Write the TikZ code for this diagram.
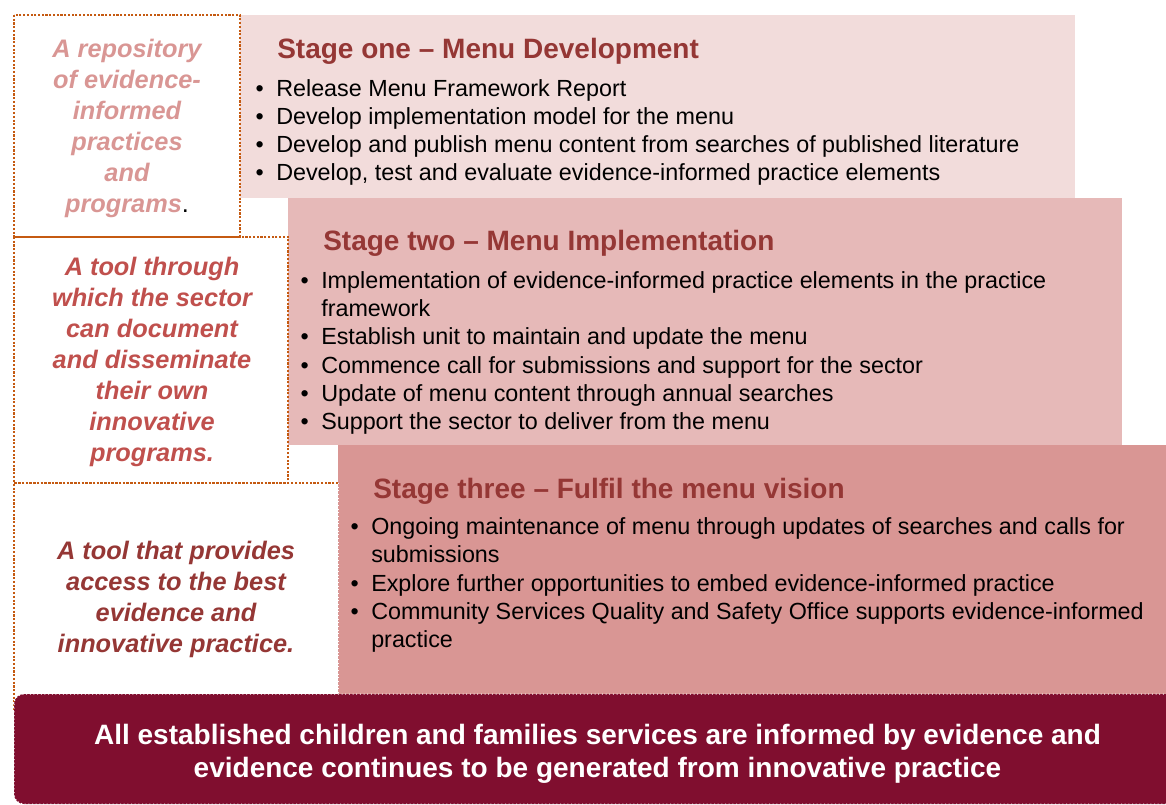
\documentclass[tikz,border=0pt]{standalone}
\usepackage{fontspec}
\setmainfont{Liberation Sans}
\definecolor{sone}{RGB}{242,220,219}
\definecolor{stwo}{RGB}{230,185,184}
\definecolor{sthree}{RGB}{217,150,148}
\definecolor{titlered}{RGB}{149,55,53}
\definecolor{midred}{RGB}{192,80,77}
\definecolor{darkbox}{RGB}{128,14,47}
\definecolor{dotorange}{RGB}{197,90,17}
\newcommand\bul{\llap{\makebox[15.5pt][l]{•}}}
\begin{document}
\begin{tikzpicture}[x=0.75pt,y=-0.75pt,
  dotbox/.style={draw=dotorange,line width=1.8pt,dash pattern=on 1.6pt off 1.2pt},
  stagetitle/.style={anchor=base west,inner sep=0pt,text=titlered,font=\fontsize{21}{25}\selectfont\bfseries},
  bodyline/.style={anchor=base west,inner sep=0pt,font=\fontsize{17.5}{21}\selectfont},
  sidetext/.style={align=center,inner sep=0pt,font=\fontsize{19}{23.25}\selectfont\bfseries\itshape},
]
\useasboundingbox (0,0) rectangle (1166,805);
\clip (0,0) rectangle (1166,805);
% stage fills
\fill[sone] (240,15) rectangle (1075,198);
\fill[stwo] (288,198) rectangle (1122,445);
\fill[sthree] (338,445) rectangle (1170,700);
\draw[white,line width=0.75pt,dotted] (338,483) -- (338,694);
% dotted side boxes
\draw[dotbox] (14,15) rectangle (240,237);
\draw[dotbox] (14,237) rectangle (288,483);
\draw[dotbox] (338,483) -- (14,483) -- (14,710);
% outcome box
\draw[white,line width=0.75pt,dotted,fill=darkbox,rounded corners=7.5pt] (14,694) rectangle (1200,804);

% titles
\node[stagetitle] (t1) at (277,58.3) {Stage one – Menu Development};
\node[stagetitle] (t2) at (323,251) {Stage two – Menu Implementation};
\node[stagetitle] (t3) at (373,498) {Stage three – Fulfil the menu vision};

% stage one bullets
\foreach \txt [count=\i] in {
  {\bul Release Menu Framework Report},
  {\bul Develop implementation model for the menu},
  {\bul Develop and publish menu content from searches of published literature},
  {\bul Develop, test and evaluate evidence-informed practice elements}}
  \node[bodyline] (sa\i) at (276,{96.5+28*(\i-1)}) {\txt};

% stage two bullets
\foreach \txt [count=\i] in {
  {\bul Implementation of evidence-informed practice elements in the practice},
  {framework},
  {\bul Establish unit to maintain and update the menu},
  {\bul Commence call for submissions and support for the sector},
  {\bul Update of menu content through annual searches},
  {\bul Support the sector to deliver from the menu}}
  \node[bodyline] (sb\i) at (321,{288.5+28.2*(\i-1)}) {\txt};

% stage three bullets
\foreach \txt [count=\i] in {
  {\bul Ongoing maintenance of menu through updates of searches and calls for},
  {submissions},
  {\bul Explore further opportunities to embed evidence-informed practice},
  {\bul Community Services Quality and Safety Office supports evidence-informed},
  {practice}}
  \node[bodyline] (sc\i) at (371,{534.5+28.25*(\i-1)}) {\txt};

% side texts
\node[sidetext,text=sthree] (r1) at (127,128) {A repository\\of evidence-\\informed\\practices\\and\\programs{\color{black}\upshape\mdseries.}};
\node[sidetext,text=midred] (r2) at (152,362) {A tool through\\which the sector\\can document\\and disseminate\\their own\\innovative\\programs.};
\node[sidetext,text=titlered] (r3) at (176,599.5) {A tool that provides\\access to the best\\evidence and\\innovative practice.};

% outcome text
\node[align=center,inner sep=0pt,text=white,font=\fontsize{21}{24.75}\selectfont\bfseries] (outcome) at (597.5,754) {All established children and families services are informed by evidence and\\evidence continues to be generated from innovative practice};
\end{tikzpicture}
\end{document}
